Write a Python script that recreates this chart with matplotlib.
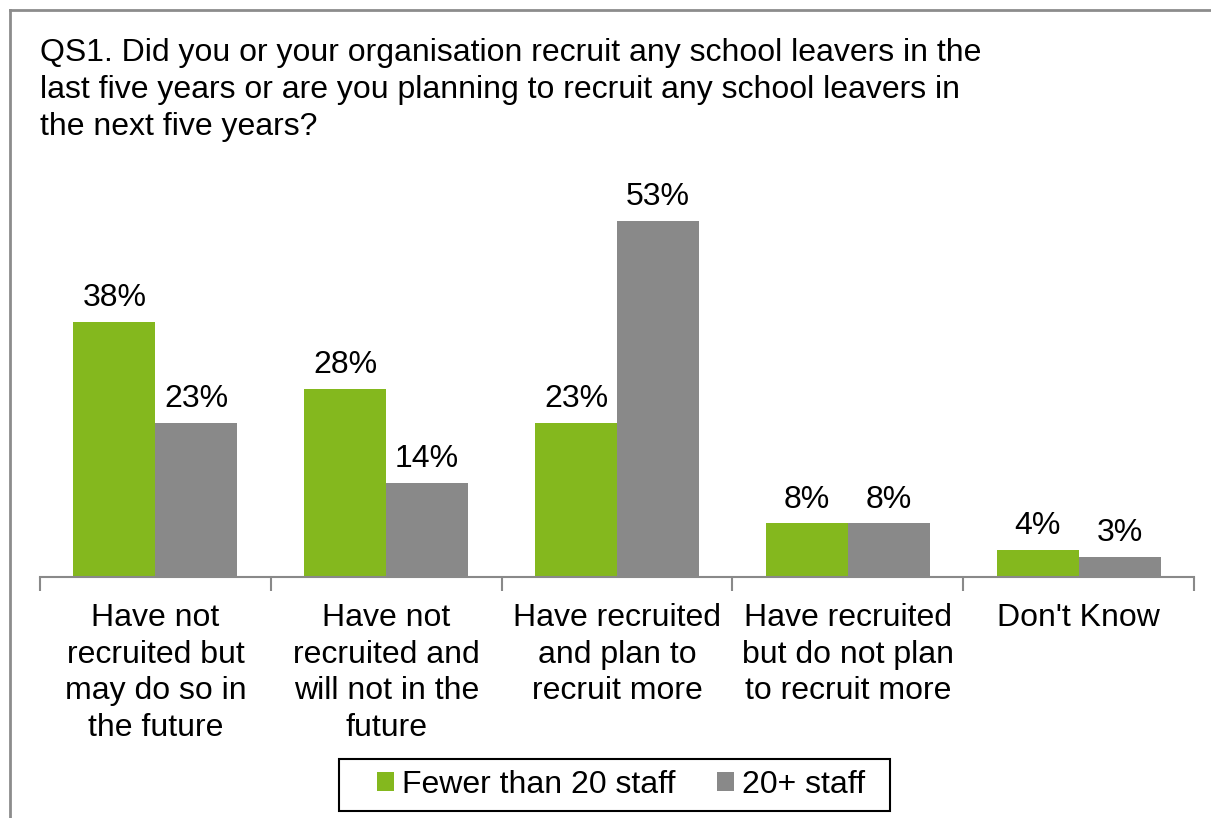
import matplotlib
matplotlib.use("Agg")
import matplotlib.pyplot as plt
from matplotlib.lines import Line2D
from matplotlib.patches import Rectangle
import numpy as np

plt.rcParams['font.family'] = ['Liberation Sans', 'DejaVu Sans']

categories = ["Have not\nrecruited but\nmay do so in\nthe future",
              "Have not\nrecruited and\nwill not in the\nfuture",
              "Have recruited\nand plan to\nrecruit more",
              "Have recruited\nbut do not plan\nto recruit more",
              "Don't Know"]
small = [38, 28, 23, 8, 4]
large = [23, 14, 53, 8, 3]
series_names = ["Fewer than 20 staff", "20+ staff"]
title = ("QS1. Did you or your organisation recruit any school leavers in the\n"
         "last five years or are you planning to recruit any school leavers in\n"
         "the next five years?")

green = "#84b81e"
grey = "#898989"
W, H = 1211, 818
fs = 23

fig = plt.figure(figsize=(W / 100, H / 100), dpi=100)
ax = fig.add_axes([40 / W, (H - 577) / H, (1194 - 40) / W, 403 / H])

x = np.arange(len(categories))
bw = 0.355
b1 = ax.bar(x - bw / 2, small, bw, color=green, label=series_names[0])
b2 = ax.bar(x + bw / 2, large, bw, color=grey, label=series_names[1])
for bars in (b1, b2):
    for r in bars:
        ax.text(r.get_x() + r.get_width() / 2, r.get_height() + 1.3,
                "%d%%" % r.get_height(), ha='center', va='bottom', fontsize=fs)

ax.set_xlim(-0.5, len(categories) - 0.5)
ax.set_ylim(0, 60)
ax.set_yticks([])
for s in ['top', 'right', 'left']:
    ax.spines[s].set_visible(False)
ax.spines['bottom'].set_color(grey)
ax.spines['bottom'].set_linewidth(1.5)

ax.set_xticks(x)
ax.set_xticklabels(categories, fontsize=fs, linespacing=1.28)
ax.tick_params(axis='x', which='major', length=0, pad=19)
ax.set_xticks(np.arange(len(categories) + 1) - 0.5, minor=True)
ax.tick_params(axis='x', which='minor', length=10, width=1.5, color=grey)

fig.text(40 / W, 1 - 38 / H, title, ha='left', va='top', fontsize=fs, linespacing=1.3)

# legend box drawn separately so the side padding can match
fig.add_artist(Rectangle((339 / W, 1 - 811 / H), 551 / W, 52 / H, transform=fig.transFigure,
                         facecolor='white', edgecolor='black', lw=1.5))
leg = fig.legend(loc='center', bbox_to_anchor=(621 / W, 1 - 785 / H), ncol=2,
                 fontsize=fs, frameon=False, handlelength=0.53,
                 handleheight=0.53, handletextpad=0.25, columnspacing=1.3,
                 borderpad=0.3)

fig.add_artist(Line2D([9.5 / W, 9.5 / W], [0, 1 - 9.5 / H], color='#8c8c8c', lw=2))
fig.add_artist(Line2D([9.5 / W, 1], [1 - 9.5 / H, 1 - 9.5 / H], color='#8c8c8c', lw=2))

fig.savefig("out.png", dpi=100)
